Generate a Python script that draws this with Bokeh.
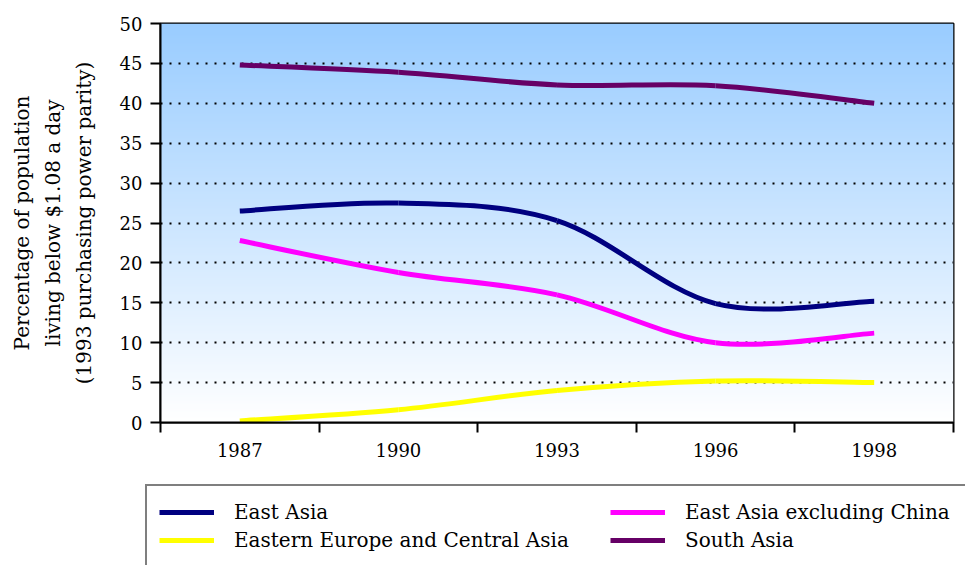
import numpy as np
from bokeh.plotting import figure
from bokeh.models import Range1d, FixedTicker, Legend, LegendItem, ColumnDataSource
from bokeh.embed import file_html
from bokeh.resources import INLINE

# ---- data ----
years = ["1987", "1990", "1993", "1996", "1998"]
east_asia = [26.5, 27.5, 25.3, 14.9, 15.2]
eastern_europe_central_asia = [0.2, 1.6, 4.0, 5.2, 5.0]
east_asia_ex_china = [22.8, 18.8, 16.0, 10.0, 11.2]
south_asia = [44.8, 43.9, 42.3, 42.2, 40.0]
y_ticks = [0, 5, 10, 15, 20, 25, 30, 35, 40, 45, 50]

series_names = ["East Asia", "Eastern Europe and Central Asia",
                "East Asia excluding China", "South Asia"]
series_values = [east_asia, eastern_europe_central_asia, east_asia_ex_china, south_asia]
series_colors = ["#000080", "#FFFF00", "#FF00FF", "#660066"]

FONT = "DejaVu Serif"
W = 965

x_idx = list(range(len(years)))

p = figure(width=W, height=470, output_backend="svg", toolbar_location=None,
           x_range=Range1d(-0.5, len(years) - 0.5), y_range=Range1d(0, 50),
           min_border_left=160, min_border_right=12, min_border_top=23,
           min_border_bottom=48, background_fill_color="white",
           border_fill_color="white")
p.outline_line_color = "black"
p.outline_line_width = 2

# gradient background (light blue at top to white at bottom)
N = 256
img = np.empty((N, 1), dtype=np.uint32)
view = img.view(dtype=np.uint8).reshape((N, 1, 4))
t = np.linspace(0, 1, N)
top_c = np.array([153, 204, 255])
bot_c = np.array([255, 255, 255])
for k in range(3):
    view[:, 0, k] = np.round(bot_c[k] + (top_c[k] - bot_c[k]) * t).astype(np.uint8)
view[:, 0, 3] = 255
p.image_rgba(image=[img], x=-0.5, y=0, dw=len(years), dh=50, level="image")

# smoothed lines (Excel-like smoothing via cubic Bezier segments)
def smooth_segments(xs, ys):
    n = len(xs)
    d = dict(x0=[], y0=[], x1=[], y1=[], cx0=[], cy0=[], cx1=[], cy1=[])
    for i in range(n - 1):
        a = max(i - 1, 0)
        b = min(i + 2, n - 1)
        d["x0"].append(xs[i]); d["y0"].append(ys[i])
        d["x1"].append(xs[i + 1]); d["y1"].append(ys[i + 1])
        d["cx0"].append(xs[i] + (xs[i + 1] - xs[a]) / 6.0)
        d["cy0"].append(ys[i] + (ys[i + 1] - ys[a]) / 6.0)
        d["cx1"].append(xs[i + 1] - (xs[b] - xs[i]) / 6.0)
        d["cy1"].append(ys[i + 1] - (ys[b] - ys[i]) / 6.0)
    return ColumnDataSource(d)

for name, vals, col in zip(series_names, series_values, series_colors):
    src = smooth_segments(x_idx, vals)
    p.bezier(x0="x0", y0="y0", x1="x1", y1="y1", cx0="cx0", cy0="cy0",
             cx1="cx1", cy1="cy1", source=src, line_color=col, line_width=5)

# axes
xa = p.xaxis[0]
xa.ticker = FixedTicker(ticks=x_idx, minor_ticks=[i - 0.5 for i in range(len(years) + 1)])
xa.major_label_overrides = {i: y for i, y in zip(x_idx, years)}
xa.major_tick_out = 0
xa.major_tick_in = 0
xa.minor_tick_out = 10
xa.minor_tick_in = 0
xa.minor_tick_line_color = "black"
xa.minor_tick_line_width = 2
xa.axis_line_color = "black"
xa.axis_line_width = 2
xa.major_label_standoff = 10
xa.major_label_text_font = FONT
xa.major_label_text_font_size = "18px"
xa.major_label_text_color = "black"

ya = p.yaxis[0]
ya.ticker = FixedTicker(ticks=y_ticks)
ya.major_tick_out = 10
ya.major_tick_in = 0
ya.minor_tick_out = 0
ya.minor_tick_in = 0
ya.major_tick_line_color = "black"
ya.major_tick_line_width = 2
ya.axis_line_color = "black"
ya.axis_line_width = 2
ya.major_label_standoff = 8
ya.major_label_text_font = FONT
ya.major_label_text_font_size = "18px"
ya.major_label_text_color = "black"
ya.axis_label = "Percentage of population\nliving below $1.08 a day\n(1993 purchasing power parity)"
ya.axis_label_text_font = FONT
ya.axis_label_text_font_size = "20px"
ya.axis_label_text_font_style = "normal"
ya.axis_label_text_color = "black"
ya.axis_label_text_line_height = 1.29
ya.axis_label_standoff = 21

p.xgrid.grid_line_color = None
p.ygrid.grid_line_color = "black"
p.ygrid.grid_line_width = 2
p.ygrid.grid_line_dash = "2 7"

# legend panel below the chart (proxy lines use the series data, kept out of view)
pl = figure(width=W, height=95, output_backend="svg", toolbar_location=None,
            x_range=Range1d(-0.5, len(years) - 0.5), y_range=Range1d(100, 101),
            x_axis_location=None, y_axis_location=None,
            min_border=0, min_border_left=0, min_border_right=0,
            min_border_top=0, min_border_bottom=0,
            background_fill_color="white", border_fill_color="white")
pl.outline_line_color = None
pl.grid.visible = False
leg_renderers = []
for vals, col in zip(series_values, series_colors):
    leg_renderers.append(pl.line(x=x_idx, y=vals, line_color=col, line_width=5))

items = [LegendItem(label=n, renderers=[r]) for n, r in zip(series_names, leg_renderers)]
legend = Legend(items=items, ncols=2, location=(145, -3),
                border_line_color="black", border_line_width=2,
                background_fill_color="white", background_fill_alpha=1.0,
                padding=12, spacing=0, margin=0,
                glyph_width=55, glyph_height=28, label_height=28,
                label_width=376, label_standoff=20,
                label_text_font=FONT, label_text_font_size="20px",
                label_text_color="black", label_text_baseline="middle")
pl.add_layout(legend, "center")

open("out.html", "w").write(file_html([p, pl], INLINE))
